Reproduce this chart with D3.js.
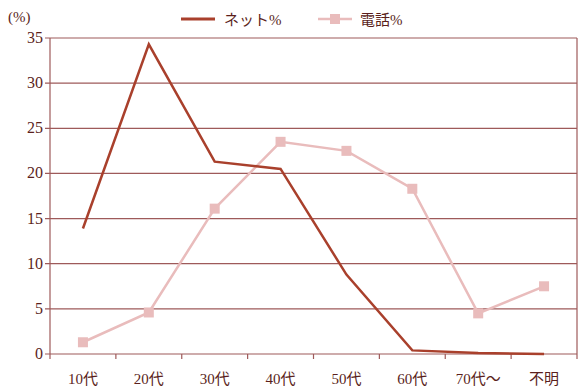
<!DOCTYPE html>
<html>
<head>
<meta charset="utf-8">
<script src="https://cdn.jsdelivr.net/npm/d3@7"></script>
<style>
  body { margin: 0; background: #fff; }
  svg { display: block; }
  svg text { font-family: "Liberation Serif", "DejaVu Serif", "Noto Sans CJK JP", serif; }
</style>
</head>
<body>
<script>
// data
let categories = ['10代', '20代', '30代', '40代', '50代', '60代', '70代〜', '不明']
let netValues = [13.9, 34.3, 21.3, 20.5, 8.8, 0.4, 0.1, 0]
let phoneValues = [1.3, 4.6, 16.1, 23.5, 22.5, 18.3, 4.5, 7.5]
let yTicks = [0, 5, 10, 15, 20, 25, 30, 35]

let width = 580
let height = 389
let plotLeft = 50, plotRight = 577, plotTop = 38, plotBottom = 354

let netColor = '#a9402c'
let phoneColor = '#e9bcbc'
let gridColor = '#9e5a5a'
let textColor = '#5b1f1c'

let svg = d3.select('body')
  .append('svg')
  .attr('width', width)
  .attr('height', height)

let scaleX = d3.scaleBand()
  .domain(categories)
  .range([plotLeft, plotRight])

let scaleY = d3.scaleLinear()
  .domain([0, 35])
  .range([plotBottom, plotTop])

// gridlines
svg.append('g')
  .selectAll('line')
  .data(yTicks)
  .enter()
  .append('line')
  .attr('x1', plotLeft - 5)
  .attr('x2', plotRight)
  .attr('y1', d => scaleY(d))
  .attr('y2', d => scaleY(d))
  .attr('stroke', gridColor)
  .attr('stroke-width', 1.2)

// frame: left and right borders
svg.append('line')
  .attr('x1', plotLeft).attr('x2', plotLeft)
  .attr('y1', scaleY(35)).attr('y2', plotBottom + 5)
  .attr('stroke', gridColor).attr('stroke-width', 1.2)
svg.append('line')
  .attr('x1', plotRight).attr('x2', plotRight)
  .attr('y1', scaleY(35)).attr('y2', plotBottom + 5)
  .attr('stroke', gridColor).attr('stroke-width', 1.2)

// x tick marks at category boundaries
svg.append('g')
  .selectAll('line')
  .data(categories.slice(1))
  .enter()
  .append('line')
  .attr('x1', d => scaleX(d))
  .attr('x2', d => scaleX(d))
  .attr('y1', plotBottom)
  .attr('y2', plotBottom + 5)
  .attr('stroke', gridColor)
  .attr('stroke-width', 1.2)

// y labels
svg.append('g')
  .selectAll('text')
  .data(yTicks)
  .enter()
  .append('text')
  .attr('x', plotLeft - 7)
  .attr('y', d => scaleY(d) + 5)
  .attr('text-anchor', 'end')
  .attr('font-size', 16)
  .attr('fill', textColor)
  .text(d => d)

// x labels
svg.append('g')
  .selectAll('text')
  .data(categories)
  .enter()
  .append('text')
  .attr('x', d => scaleX(d) + scaleX.bandwidth() / 2)
  .attr('y', 384)
  .attr('text-anchor', 'middle')
  .attr('font-size', 15)
  .attr('fill', textColor)
  .text(d => d)

svg.append('text')
  .attr('x', 8)
  .attr('y', 22)
  .attr('font-size', 15)
  .attr('fill', textColor)
  .text('(%)')

let line = d3.line()
  .x((d, i) => scaleX(categories[i]) + scaleX.bandwidth() / 2)
  .y(d => scaleY(d))

// phone series
svg.append('path')
  .datum(phoneValues)
  .attr('d', line)
  .attr('fill', 'none')
  .attr('stroke', phoneColor)
  .attr('stroke-width', 2.5)

svg.append('g')
  .selectAll('rect')
  .data(phoneValues)
  .enter()
  .append('rect')
  .attr('x', (d, i) => scaleX(categories[i]) + scaleX.bandwidth() / 2 - 5)
  .attr('y', d => scaleY(d) - 5)
  .attr('width', 10)
  .attr('height', 10)
  .attr('fill', phoneColor)

// net series
svg.append('path')
  .datum(netValues)
  .attr('d', line)
  .attr('fill', 'none')
  .attr('stroke', netColor)
  .attr('stroke-width', 2.5)

// legend
let legend = svg.append('g')
legend.append('line')
  .attr('x1', 181).attr('x2', 215)
  .attr('y1', 19).attr('y2', 19)
  .attr('stroke', netColor).attr('stroke-width', 3)
legend.append('text')
  .attr('x', 224).attr('y', 25)
  .attr('font-size', 15)
  .attr('fill', textColor)
  .text('ネット%')
legend.append('line')
  .attr('x1', 318).attr('x2', 352)
  .attr('y1', 19).attr('y2', 19)
  .attr('stroke', phoneColor).attr('stroke-width', 2.5)
legend.append('rect')
  .attr('x', 330).attr('y', 14)
  .attr('width', 10).attr('height', 10)
  .attr('fill', phoneColor)
legend.append('text')
  .attr('x', 360).attr('y', 25)
  .attr('font-size', 15)
  .attr('fill', textColor)
  .text('電話%')
</script>
</body>
</html>
